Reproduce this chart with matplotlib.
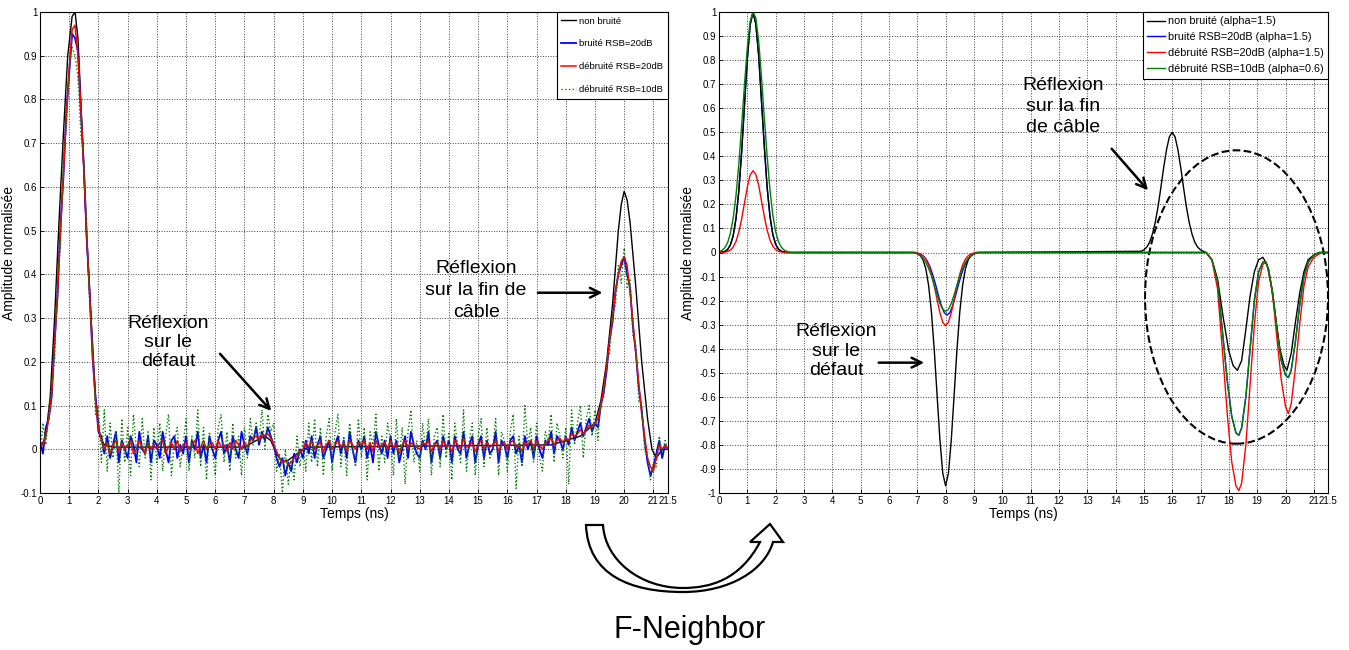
import numpy as np
import matplotlib.pyplot as plt
from matplotlib.patches import Ellipse, PathPatch
from matplotlib.path import Path

plt.rcParams['font.family'] = ['Liberation Sans', 'DejaVu Sans']
NARROW = ['Liberation Sans Narrow', 'Liberation Sans', 'DejaVu Sans']

# ---------------- left chart : raw and de-noised signals (0.1 ns samples) ----------------
t_left = np.round(np.arange(0, 21.51, 0.1), 1)

# non bruité (clean reference) - key points
t_clean = [0, 0.2, 0.35, 0.5, 0.65, 0.8, 0.95, 1.1, 1.2, 1.3, 1.45, 1.6, 1.75, 1.9, 2.05, 2.2, 2.5,
           7.0, 7.4, 7.7, 7.9, 8.1, 8.3, 8.5, 8.8, 9.2,
           17.5, 18.5, 19.0, 19.2, 19.4, 19.6, 19.8, 19.9, 20.0, 20.1, 20.2, 20.4, 20.6, 20.8, 20.95,
           21.1, 21.3, 21.5]
v_clean = [0.0, 0.03, 0.12, 0.3, 0.52, 0.72, 0.9, 0.99, 1.0, 0.94, 0.72, 0.48, 0.3, 0.12, 0.03, 0.01, 0.005,
           0.005, 0.02, 0.03, 0.02, -0.01, -0.03, -0.025, -0.01, 0.005,
           0.01, 0.03, 0.06, 0.11, 0.2, 0.33, 0.5, 0.56, 0.59, 0.57, 0.52, 0.37, 0.2, 0.07, 0.0,
           -0.02, 0.0, 0.0]

noisy_20db = [
    0.02, -0.01, 0.05, 0.07, 0.12, 0.25, 0.35, 0.51, 0.62, 0.77,
    0.86, 0.95, 0.94, 0.91, 0.77, 0.65, 0.48, 0.36, 0.21, 0.12,
    0.04, 0.03, -0.01, 0.03, -0.02, 0.01, 0.04, -0.03, 0.02, 0.00,
    -0.02, 0.03, 0.01, -0.03, 0.04, 0.00, -0.01, 0.03, -0.03, 0.02,
    0.01, -0.02, 0.04, 0.00, -0.03, 0.02, 0.03, -0.02, 0.01, -0.01,
    0.03, -0.03, 0.02, 0.00, 0.04, -0.02, 0.01, -0.03, 0.03, 0.00,
    -0.02, 0.02, 0.04, -0.01, 0.01, -0.03, 0.03, 0.00, -0.02, 0.04,
    0.01, -0.01, 0.03, 0.02, 0.05, 0.01, 0.04, 0.02, 0.05, 0.03,
    0.01, -0.02, -0.04, -0.02, -0.06, -0.03, -0.05, -0.01, -0.03, 0.00,
    -0.02, 0.02, -0.01, 0.03, -0.02, 0.01, 0.03, -0.02, 0.00, 0.02,
    -0.03, 0.01, 0.03, -0.01, 0.02, -0.02, 0.04, 0.00, -0.03, 0.02,
    0.00, 0.03, -0.02, 0.01, -0.03, 0.04, 0.01, -0.01, 0.02, -0.02,
    0.03, -0.01, 0.02, -0.03, 0.00, 0.03, -0.02, 0.04, 0.01, -0.01,
    -0.02, 0.02, 0.00, 0.04, -0.03, 0.01, 0.02, -0.02, 0.03, 0.00,
    0.02, -0.03, 0.03, 0.00, -0.01, 0.04, -0.02, 0.01, 0.03, -0.03,
    0.01, 0.03, -0.02, 0.02, -0.01, 0.00, 0.04, -0.03, 0.02, 0.01,
    -0.02, 0.02, 0.03, -0.01, 0.01, -0.03, 0.03, 0.00, 0.02, -0.02,
    0.03, 0.00, -0.02, 0.02, 0.01, 0.04, -0.01, 0.03, 0.02, 0.00,
    0.03, 0.01, 0.05, 0.02, 0.04, 0.06, 0.03, 0.05, 0.07, 0.04,
    0.06, 0.05, 0.10, 0.13, 0.18, 0.25, 0.29, 0.36, 0.40, 0.42,
    0.44, 0.40, 0.37, 0.28, 0.22, 0.14, 0.09, 0.02, -0.03, -0.06,
    -0.04, -0.01, 0.02, -0.02, 0.01, 0.00]

denoised_20db = [
    0.01, 0.01, 0.03, 0.07, 0.13, 0.24, 0.36, 0.50, 0.63, 0.76,
    0.87, 0.96, 0.97, 0.90, 0.78, 0.64, 0.49, 0.35, 0.22, 0.11,
    0.05, 0.02, 0.00, 0.015, -0.01, 0.01, 0.02, -0.005, 0.015, 0.00,
    0.01, 0.02, -0.01, 0.00, 0.02, 0.005, -0.01, 0.015, 0.00, 0.01,
    0.00, 0.015, 0.02, -0.01, 0.005, 0.015, 0.00, 0.02, -0.005, 0.01,
    0.015, 0.00, 0.01, 0.02, -0.01, 0.005, 0.02, 0.00, 0.01, 0.015,
    0.00, 0.02, 0.005, 0.01, -0.005, 0.015, 0.00, 0.02, 0.01, 0.00,
    0.015, 0.005, 0.02, 0.025, 0.03, 0.02, 0.035, 0.03, 0.035, 0.025,
    0.01, -0.005, -0.02, -0.03, -0.025, -0.035, -0.03, -0.02, -0.015, -0.005,
    0.00, 0.015, 0.005, 0.02, 0.00, 0.01, 0.015, -0.005, 0.01, 0.02,
    0.00, 0.01, 0.02, 0.005, 0.015, -0.005, 0.02, 0.01, 0.00, 0.015,
    0.01, 0.02, 0.00, 0.015, -0.005, 0.02, 0.005, 0.01, 0.015, 0.00,
    0.02, 0.005, 0.01, -0.01, 0.01, 0.02, 0.00, 0.015, 0.01, 0.005,
    0.00, 0.015, 0.01, 0.02, -0.005, 0.01, 0.015, 0.00, 0.02, 0.005,
    0.01, -0.005, 0.02, 0.01, 0.00, 0.025, 0.005, 0.01, 0.015, -0.005,
    0.01, 0.02, 0.00, 0.015, 0.005, 0.01, 0.02, -0.005, 0.01, 0.015,
    0.00, 0.015, 0.02, 0.005, 0.01, -0.005, 0.015, 0.01, 0.02, 0.00,
    0.02, 0.01, 0.00, 0.015, 0.02, 0.025, 0.01, 0.02, 0.025, 0.015,
    0.025, 0.02, 0.035, 0.03, 0.035, 0.045, 0.035, 0.045, 0.055, 0.05,
    0.06, 0.07, 0.10, 0.14, 0.19, 0.25, 0.30, 0.36, 0.40, 0.43,
    0.44, 0.42, 0.36, 0.29, 0.22, 0.15, 0.08, 0.03, -0.02, -0.04,
    -0.05, -0.02, 0.01, 0.00, 0.01, 0.00]

denoised_10db = [
    -0.02, 0.06, 0.01, 0.09, 0.15, 0.20, 0.40, 0.46, 0.68, 0.73,
    0.88, 0.92, 0.90, 0.85, 0.72, 0.66, 0.50, 0.33, 0.24, 0.08,
    0.10, -0.03, 0.09, -0.05, 0.06, -0.02, 0.04, -0.10, 0.07, -0.03,
    0.05, -0.06, 0.08, 0.00, -0.04, 0.07, -0.02, 0.04, -0.07, 0.05,
    -0.03, 0.06, -0.05, 0.03, 0.08, -0.06, 0.02, 0.05, -0.04, 0.01,
    0.07, -0.05, 0.03, -0.02, 0.09, -0.04, 0.05, -0.07, 0.04, 0.00,
    -0.06, 0.05, 0.08, -0.03, 0.04, -0.05, 0.06, -0.02, 0.03, -0.06,
    0.05, -0.02, 0.07, 0.01, 0.06, 0.02, 0.09, 0.00, 0.08, 0.04,
    0.06, -0.05, -0.01, -0.10, 0.00, -0.08, -0.02, -0.07, 0.03, -0.04,
    0.02, -0.05, 0.06, -0.03, 0.07, -0.04, 0.05, -0.06, 0.03, 0.07,
    -0.05, 0.04, 0.08, -0.04, 0.03, -0.06, 0.06, 0.00, -0.04, 0.07,
    -0.02, 0.05, -0.07, 0.04, 0.01, 0.08, -0.05, 0.03, -0.03, 0.06,
    0.02, -0.06, 0.07, -0.02, 0.05, -0.08, 0.04, 0.09, -0.03, 0.02,
    -0.05, 0.06, 0.00, 0.07, -0.06, 0.03, 0.05, -0.04, 0.08, -0.02,
    0.04, -0.07, 0.06, 0.01, -0.03, 0.09, -0.05, 0.02, 0.06, -0.06,
    0.03, 0.07, -0.04, 0.05, -0.02, 0.00, 0.07, -0.06, 0.04, 0.02,
    -0.05, 0.04, 0.08, -0.09, 0.03, -0.04, 0.10, 0.01, 0.05, -0.03,
    0.06, -0.02, -0.05, 0.04, 0.02, 0.08, -0.03, 0.06, 0.03, -0.02,
    0.05, -0.08, 0.09, 0.01, 0.06, 0.10, -0.02, 0.07, 0.10, 0.03,
    0.09, 0.02, 0.11, 0.12, 0.20, 0.22, 0.31, 0.33, 0.42, 0.38,
    0.46, 0.37, 0.39, 0.26, 0.24, 0.11, 0.10, 0.00, -0.02, -0.07,
    -0.03, -0.04, 0.03, -0.01, 0.02, 0.00]

# ---------------- right chart : F-Neighbor results ----------------
r_t_start = [0.0, 0.2, 0.3, 0.4, 0.5, 0.6, 0.7, 0.8, 0.9, 1.0, 1.1, 1.2, 1.3, 1.4, 1.5, 1.6,
             1.7, 1.8, 1.9, 2.0, 2.1, 2.2, 2.4]
r_black_start = [0.0, 0.004, 0.012, 0.031, 0.069, 0.141, 0.256, 0.419, 0.613, 0.804, 0.947, 1.0,
                 0.95, 0.82, 0.63, 0.44, 0.27, 0.15, 0.075, 0.034, 0.014, 0.005, 0.0]
r_red_start = [0.0, 0.001, 0.004, 0.01, 0.022, 0.046, 0.085, 0.14, 0.206, 0.272, 0.322, 0.34,
               0.325, 0.28, 0.215, 0.15, 0.093, 0.052, 0.026, 0.012, 0.005, 0.002, 0.0]
r_green_t_start = [0.0, 0.1, 0.2, 0.3, 0.4, 0.5, 0.6, 0.7, 0.8, 0.9, 1.0, 1.1, 1.2, 1.3, 1.4,
                   1.5, 1.6, 1.7, 1.8, 1.9, 2.0, 2.1, 2.2, 2.3, 2.5]
r_green_start = [0.003, 0.008, 0.019, 0.04, 0.078, 0.142, 0.237, 0.369, 0.528, 0.699, 0.852,
                 0.961, 1.0, 0.975, 0.88, 0.73, 0.56, 0.40, 0.26, 0.155, 0.087, 0.045, 0.022,
                 0.01, 0.0]

r_t_dip = [6.9, 7.0, 7.1, 7.2, 7.3, 7.4, 7.5, 7.6, 7.7, 7.8, 7.9, 8.0, 8.1, 8.2, 8.3, 8.4, 8.5,
           8.6, 8.7, 8.8, 8.9, 9.0, 9.1]
r_black_dip = [0.0, -0.004, -0.012, -0.03, -0.067, -0.137, -0.248, -0.406, -0.595, -0.78, -0.918,
               -0.97, -0.918, -0.78, -0.595, -0.406, -0.248, -0.137, -0.067, -0.03, -0.012,
               -0.004, 0.0]
r_red_dip = [0.0, -0.002, -0.006, -0.013, -0.028, -0.052, -0.09, -0.14, -0.196, -0.251, -0.29,
             -0.305, -0.29, -0.251, -0.196, -0.14, -0.09, -0.052, -0.028, -0.013, -0.006,
             -0.002, 0.0]
r_blue_t_dip = [6.95, 7.05, 7.15, 7.25, 7.35, 7.45, 7.55, 7.65, 7.75, 7.85, 7.95, 8.05, 8.15,
                8.25, 8.35, 8.45, 8.55, 8.65, 8.75, 8.85, 8.95, 9.05, 9.15]
r_blue_dip = [0.0, -0.004, -0.01, -0.019, -0.035, -0.06, -0.094, -0.135, -0.18, -0.221, -0.25,
              -0.26, -0.25, -0.221, -0.18, -0.135, -0.094, -0.06, -0.035, -0.019, -0.01,
              -0.004, 0.0]
r_green_t_dip = [6.8, 6.9, 7.0, 7.1, 7.2, 7.3, 7.4, 7.5, 7.6, 7.7, 7.8, 7.9, 8.0, 8.1, 8.2, 8.3,
                 8.4, 8.5, 8.6, 8.7, 8.8, 8.9, 9.0, 9.1, 9.2]
r_green_dip = [0.0, -0.002, -0.006, -0.013, -0.024, -0.041, -0.066, -0.098, -0.136, -0.176,
               -0.212, -0.236, -0.245, -0.236, -0.212, -0.176, -0.136, -0.098, -0.066, -0.041,
               -0.024, -0.013, -0.006, -0.002, 0.0]

r_black_t_end = [14.9, 15.0, 15.1, 15.2, 15.3, 15.4, 15.5, 15.6, 15.7, 15.8, 15.9, 16.0, 16.1,
                 16.2, 16.3, 16.4, 16.5, 16.6, 16.7, 16.8, 16.9, 17.0, 17.1,
                 17.2, 17.4, 17.6, 17.8, 18.0, 18.15, 18.3, 18.45, 18.6, 18.75, 18.9, 19.05,
                 19.2, 19.35, 19.5, 19.65, 19.8, 19.95, 20.05, 20.2, 20.35, 20.5, 20.65, 20.8,
                 21.0, 21.2, 21.5]
r_black_end = [0.005, 0.011, 0.022, 0.042, 0.076, 0.125, 0.19, 0.27, 0.354, 0.428, 0.481, 0.5,
               0.481, 0.428, 0.354, 0.27, 0.19, 0.125, 0.076, 0.042, 0.022, 0.011, 0.005,
               0.0, -0.03, -0.11, -0.27, -0.41, -0.47, -0.49, -0.45, -0.32, -0.18, -0.08, -0.03,
               -0.02, -0.05, -0.14, -0.27, -0.4, -0.47, -0.49, -0.42, -0.29, -0.17, -0.08, -0.03,
               -0.01, 0.0, 0.0]
r_red_t_end = [17.2, 17.4, 17.6, 17.8, 17.95, 18.1, 18.25, 18.35, 18.45, 18.6, 18.75, 18.9,
               19.05, 19.2, 19.3, 19.4, 19.55, 19.7, 19.85, 20.0, 20.1, 20.2, 20.35, 20.5,
               20.65, 20.8, 21.0, 21.2, 21.3, 21.5]
r_red_end = [0.0, -0.03, -0.15, -0.45, -0.68, -0.87, -0.97, -0.99, -0.96, -0.8, -0.55, -0.3,
             -0.12, -0.05, -0.04, -0.07, -0.18, -0.36, -0.53, -0.64, -0.67, -0.63, -0.48, -0.3,
             -0.14, -0.06, -0.02, -0.005, 0.0, 0.0]
r_green_t_end = [17.2, 17.4, 17.6, 17.8, 17.95, 18.1, 18.25, 18.35, 18.45, 18.6, 18.75, 18.9,
                 19.05, 19.2, 19.3, 19.4, 19.55, 19.7, 19.85, 20.0, 20.1, 20.2, 20.35, 20.5,
                 20.65, 20.8, 21.0, 21.2, 21.5]
r_green_end = [0.0, -0.03, -0.12, -0.36, -0.54, -0.68, -0.75, -0.76, -0.73, -0.6, -0.4, -0.2,
               -0.08, -0.04, -0.04, -0.07, -0.17, -0.32, -0.45, -0.51, -0.52, -0.49, -0.37,
               -0.22, -0.1, -0.04, -0.01, 0.0, 0.0]

x_ticks = list(range(22)) + [21.5]
x_labels = [str(v) for v in range(22)] + ['21.5']
left_labels = ['non bruité', 'bruité RSB=20dB', 'débruité RSB=20dB', 'débruité RSB=10dB']
right_labels = ['non bruité (alpha=1.5)', 'bruité RSB=20dB (alpha=1.5)',
                'débruité RSB=20dB (alpha=1.5)', 'débruité RSB=10dB (alpha=0.6)']

BLUE, RED, GREEN = '#0000ff', '#ff0000', '#008000'


def style_axes(ax, ymin, ymax, step):
    ax.set_xlim(0, 21.5)
    ax.set_ylim(ymin, ymax)
    yt = np.round(np.arange(ymin, ymax + step / 2, step), 1) + 0.0
    ax.set_xticks(x_ticks, x_labels, fontsize=7, fontfamily=NARROW)
    ax.set_yticks(yt, ['%g' % abs(v) if abs(v) < 1e-9 else '%g' % v for v in yt],
                  fontsize=7, fontfamily=NARROW)
    ax.grid(True, ls=':', color='0.25', lw=0.7)
    ax.tick_params(direction='in', length=3, pad=2, width=0.6)
    for s in ax.spines.values():
        s.set_linewidth(0.8)
    ax.set_xlabel('Temps (ns)', fontsize=10, fontfamily=NARROW, labelpad=1)
    ax.set_ylabel('Amplitude normalisée', fontsize=10, labelpad=3)


fig = plt.figure(figsize=(13.49, 6.5), dpi=100)

# left axes
ax1 = fig.add_axes((40 / 1349, 157 / 650, 628 / 1349, 481 / 650))
ax1.plot(t_clean, v_clean, color='k', lw=1.0)
ax1.plot(t_left, noisy_20db, color=BLUE, lw=1.3)
ax1.plot(t_left, denoised_20db, color=RED, lw=1.1)
ax1.plot(t_left, denoised_10db, color=GREEN, lw=1.0, ls=':')
style_axes(ax1, -0.1, 1.0, 0.1)
ax1.legend(left_labels, loc='upper right', fontsize=6.8, fancybox=False, edgecolor='k',
           framealpha=1, borderaxespad=0, labelspacing=1.45, handlelength=1.6,
           handletextpad=0.3, borderpad=0.5).get_frame().set_linewidth(0.8)

arrow_kw = dict(arrowstyle='->,head_length=0.7,head_width=0.35', color='k', lw=1.8)
ax1.text(4.38, 0.244, 'Réflexion\nsur le\ndéfaut', ha='center', va='center', fontsize=14,
         linespacing=1.15)
ax1.annotate('', xy=(7.98, 0.083), xytext=(6.1, 0.223), arrowprops=arrow_kw)
ax1.text(14.93, 0.363, 'Réflexion\nsur la fin de\ncâble', ha='center', va='center',
         fontsize=14, linespacing=1.4)
ax1.annotate('', xy=(19.35, 0.358), xytext=(16.95, 0.358), arrowprops=arrow_kw)

# right axes
ax2 = fig.add_axes((719 / 1349, 157 / 650, 609 / 1349, 481 / 650))
ax2.plot(r_t_start + r_blue_t_dip + r_green_t_end, r_black_start + r_blue_dip + r_green_end,
         color=BLUE, lw=1.0)
ax2.plot(r_t_start + r_t_dip + r_black_t_end, r_black_start + r_black_dip + r_black_end,
         color='k', lw=1.0)
ax2.plot(r_t_start + r_t_dip + r_red_t_end, r_red_start + r_red_dip + r_red_end,
         color=RED, lw=1.0)
ax2.plot(r_green_t_start + r_green_t_dip + r_green_t_end, r_green_start + r_green_dip + r_green_end,
         color=GREEN, lw=1.0)
style_axes(ax2, -1.0, 1.0, 0.1)
h = ax2.get_lines()
ax2.legend([h[1], h[0], h[2], h[3]], right_labels, loc='upper right', fontsize=7.8,
           fancybox=False, edgecolor='k', framealpha=1, borderaxespad=0, labelspacing=0.55,
           handlelength=1.6, handletextpad=0.3, borderpad=0.4).get_frame().set_linewidth(0.8)

ax2.add_patch(Ellipse((18.27, -0.185), 6.46, 1.22, fill=False, ls='--', lw=1.5,
                      color='k', clip_on=False))
ax2.text(12.14, 0.608, 'Réflexion\nsur la fin\nde câble', ha='center', va='center',
         fontsize=14, linespacing=1.3)
ax2.annotate('', xy=(15.21, 0.25), xytext=(13.8, 0.44), arrowprops=arrow_kw)
ax2.text(4.13, -0.41, 'Réflexion\nsur le\ndéfaut', ha='center', va='center', fontsize=14,
         linespacing=1.2)
ax2.annotate('', xy=(7.34, -0.458), xytext=(5.54, -0.458), arrowprops=arrow_kw)


# hollow curved arrow between the two charts (pixel coords -> figure fraction)
def fpx(x, y):
    return (x / 1349, 1 - y / 650)


pts = [(586, 525), (588, 575), (630, 592), (683, 592), (730, 592), (765, 570), (773, 542),
       (783, 542), (770, 524), (750, 542), (760, 542),
       (740, 580), (710, 588), (683, 588), (640, 588), (605, 560), (603, 525), (586, 525)]
codes = [Path.MOVETO] + [Path.CURVE4] * 6 + [Path.LINETO] * 4 + [Path.CURVE4] * 6 + [Path.CLOSEPOLY]
fig.patches.append(PathPatch(Path([fpx(*p) for p in pts], codes), facecolor='white',
                             edgecolor='k', lw=1.6, transform=fig.transFigure))
fig.text(690 / 1349, 1 - 630 / 650, 'F-Neighbor', ha='center', va='center', fontsize=22)

fig.savefig('out.png', dpi=100)
